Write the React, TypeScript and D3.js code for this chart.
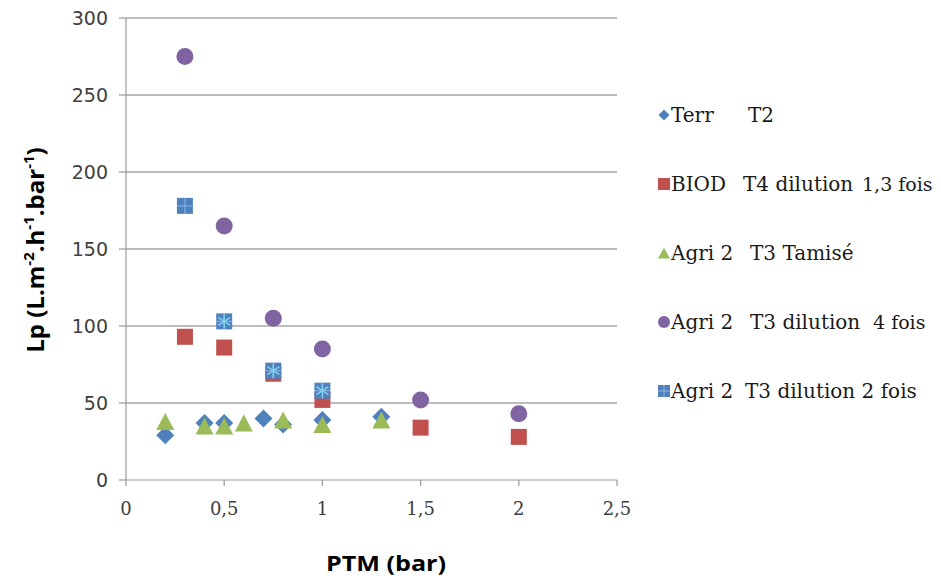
import React from 'react';
import * as d3 from 'd3';

// Terr T2
const terrX = [0.2, 0.4, 0.5, 0.7, 0.8, 1, 1.3];
const terrY = [29, 37, 37, 40, 36, 39, 41];
// BIOD T4 dilution 1,3 fois
const biodX = [0.3, 0.5, 0.75, 1, 1.5, 2];
const biodY = [93, 86, 69, 52, 34, 28];
// Agri 2 T3 Tamisé
const tamiseX = [0.2, 0.4, 0.5, 0.6, 0.8, 1, 1.3];
const tamiseY = [38, 35, 35, 37, 39, 36, 39];
// Agri 2 T3 dilution 4 fois
const dil4X = [0.3, 0.5, 0.75, 1, 1.5, 2];
const dil4Y = [275, 165, 105, 85, 52, 43];
// Agri 2 T3 dilution 2 fois
const dil2X = [0.3, 0.5, 0.75, 1];
const dil2Y = [178, 103, 71, 58];
// star markers drawn over the dilution 2 squares
const starX = [0.5, 0.75, 1];
const starY = [103, 71, 58];

const xTicks = [0, 0.5, 1, 1.5, 2, 2.5];
const yTicks = [0, 50, 100, 150, 200, 250, 300];

const legendLeft = ['Terr', 'BIOD', 'Agri 2', 'Agri 2', 'Agri 2'];
const legendRight = ['T2', 'T4 dilution', 'T3 Tamisé', 'T3 dilution', 'T3 dilution 2 fois'];
const legendExtra = ['', '1,3 fois', '', '4 fois', ''];

const BLUE = '#4f81bd';
const RED = '#c0504d';
const GREEN = '#9bbb59';
const PURPLE = '#8064a2';
const CYAN = '#7fd0ea';

const diamondPath = (r: number) => `M0,${-r}L${r},0L0,${r}L${-r},0Z`;
const trianglePath = (w: number, h: number) => `M0,${-h / 2}L${w / 2},${h / 2}L${-w / 2},${h / 2}Z`;

export default function App() {
  const x = d3.scaleLinear().domain([0, 2.5]).range([126, 617]);
  const y = d3.scaleLinear().domain([0, 300]).range([480, 18]);

  const fmt = (v: number) => String(v).replace('.', ',');

  const square = (cx: number, cy: number, key: string, fill: string, cross: boolean) => (
    <g key={key} transform={`translate(${cx},${cy})`}>
      <rect x={-8} y={-8} width={16} height={16} fill={fill} />
      {cross && (
        <g stroke="#8fb6e3" strokeWidth={1}>
          <line x1={0} y1={-8} x2={0} y2={8} />
          <line x1={-8} y1={0} x2={8} y2={0} />
        </g>
      )}
    </g>
  );

  const legendY = d3.range(5).map((i) => 115 + i * 69);
  const rightX = [748, 743, 750, 750, 745];
  const extraX = [0, 862, 0, 873, 0];

  return (
    <svg width={941} height={578} style={{ position: 'absolute', left: 0, top: 0, background: '#fff' }}>
      {/* grid */}
      {yTicks.map((t) => (
        <g key={'g' + t}>
          {t > 0 && <line x1={x(0)} x2={x(2.5)} y1={y(t)} y2={y(t)} stroke="#a6a6a6" strokeWidth={1.5} />}
          <line x1={119} x2={x(0)} y1={y(t)} y2={y(t)} stroke="#999" strokeWidth={1.2} />
          <text x={108} y={y(t)} dy="0.35em" textAnchor="end" fontFamily="DejaVu Sans" fontSize={19} fill="#404040">
            {t}
          </text>
        </g>
      ))}
      <line x1={x(0)} x2={x(0)} y1={y(300)} y2={y(0)} stroke="#999" strokeWidth={1.2} />
      <line x1={x(0)} x2={x(2.5)} y1={y(0)} y2={y(0)} stroke="#999" strokeWidth={1.2} />
      {xTicks.map((t) => (
        <g key={'x' + t}>
          <line x1={x(t)} x2={x(t)} y1={y(0)} y2={y(0) + 6} stroke="#999" strokeWidth={1.2} />
          <text x={x(t)} y={515} textAnchor="middle" fontFamily="DejaVu Serif" fontSize={18} fill="#404040">
            {fmt(t)}
          </text>
        </g>
      ))}

      {/* series */}
      {terrX.map((v, i) => (
        <path key={'t' + i} d={diamondPath(9)} transform={`translate(${x(v)},${y(terrY[i])})`} fill={BLUE} />
      ))}
      {biodX.map((v, i) => square(x(v), y(biodY[i]), 'b' + i, RED, false))}
      {tamiseX.map((v, i) => (
        <path key={'a' + i} d={trianglePath(18, 17)} transform={`translate(${x(v)},${y(tamiseY[i])})`} fill={GREEN} />
      ))}
      {dil4X.map((v, i) => (
        <circle key={'c' + i} cx={x(v)} cy={y(dil4Y[i])} r={8.5} fill={PURPLE} />
      ))}
      {dil2X.map((v, i) => square(x(v), y(dil2Y[i]), 'd' + i, BLUE, true))}
      {starX.map((v, i) => (
        <g key={'s' + i} transform={`translate(${x(v)},${y(starY[i])})`} stroke={CYAN} strokeWidth={1.6}>
          <line x1={0} y1={-7} x2={0} y2={7} />
          <line x1={-6} y1={-4} x2={6} y2={4} />
          <line x1={-6} y1={4} x2={6} y2={-4} />
        </g>
      ))}

      {/* axis titles */}
      <text
        x={386}
        y={571}
        textAnchor="middle"
        fontFamily="Open Sans"
        fontWeight="bold"
        fontSize={22}
        textLength={120}
        lengthAdjust="spacingAndGlyphs"
        fill="#000"
      >
        PTM (bar)
      </text>
      <text
        transform="translate(44,250) rotate(-90)"
        textAnchor="middle"
        fontFamily="Open Sans"
        fontWeight="bold"
        fontSize={24}
        fill="#000"
      >
        Lp (L.m<tspan baseline-shift="super" fontSize={15}>-2</tspan>.h<tspan baseline-shift="super" fontSize={15}>-1</tspan>.bar<tspan baseline-shift="super" fontSize={15}>-1</tspan>)
      </text>

      {/* legend */}
      {legendY.map((ly, i) => (
        <g key={'l' + i}>
          {i === 0 && <path d={diamondPath(5.5)} transform={`translate(664,${ly})`} fill={BLUE} />}
          {i === 1 && <rect x={658} y={ly - 6} width={12} height={12} fill={RED} />}
          {i === 2 && <path d={trianglePath(12, 11)} transform={`translate(664,${ly})`} fill={GREEN} />}
          {i === 3 && <circle cx={664} cy={ly} r={6} fill={PURPLE} />}
          {i === 4 && (
            <g>
              <rect x={658} y={ly - 6} width={12} height={12} fill={BLUE} />
              <line x1={664} x2={664} y1={ly - 6} y2={ly + 6} stroke="#8fb6e3" />
              <line x1={658} x2={670} y1={ly} y2={ly} stroke="#8fb6e3" />
            </g>
          )}
          <text x={671} y={ly} dy="0.35em" fontFamily="DejaVu Serif" fontSize={20} fill="#1a1a1a">
            {legendLeft[i]}
          </text>
          <text x={rightX[i]} y={ly} dy="0.35em" fontFamily="DejaVu Serif" fontSize={20} fill="#1a1a1a">
            {legendRight[i]}
          </text>
          {legendExtra[i] && (
            <text x={extraX[i]} y={ly} dy="0.35em" fontFamily="DejaVu Serif" fontSize={19} fill="#1a1a1a" style={{ whiteSpace: 'pre' }}>
              {legendExtra[i]}
            </text>
          )}
        </g>
      ))}
    </svg>
  );
}
